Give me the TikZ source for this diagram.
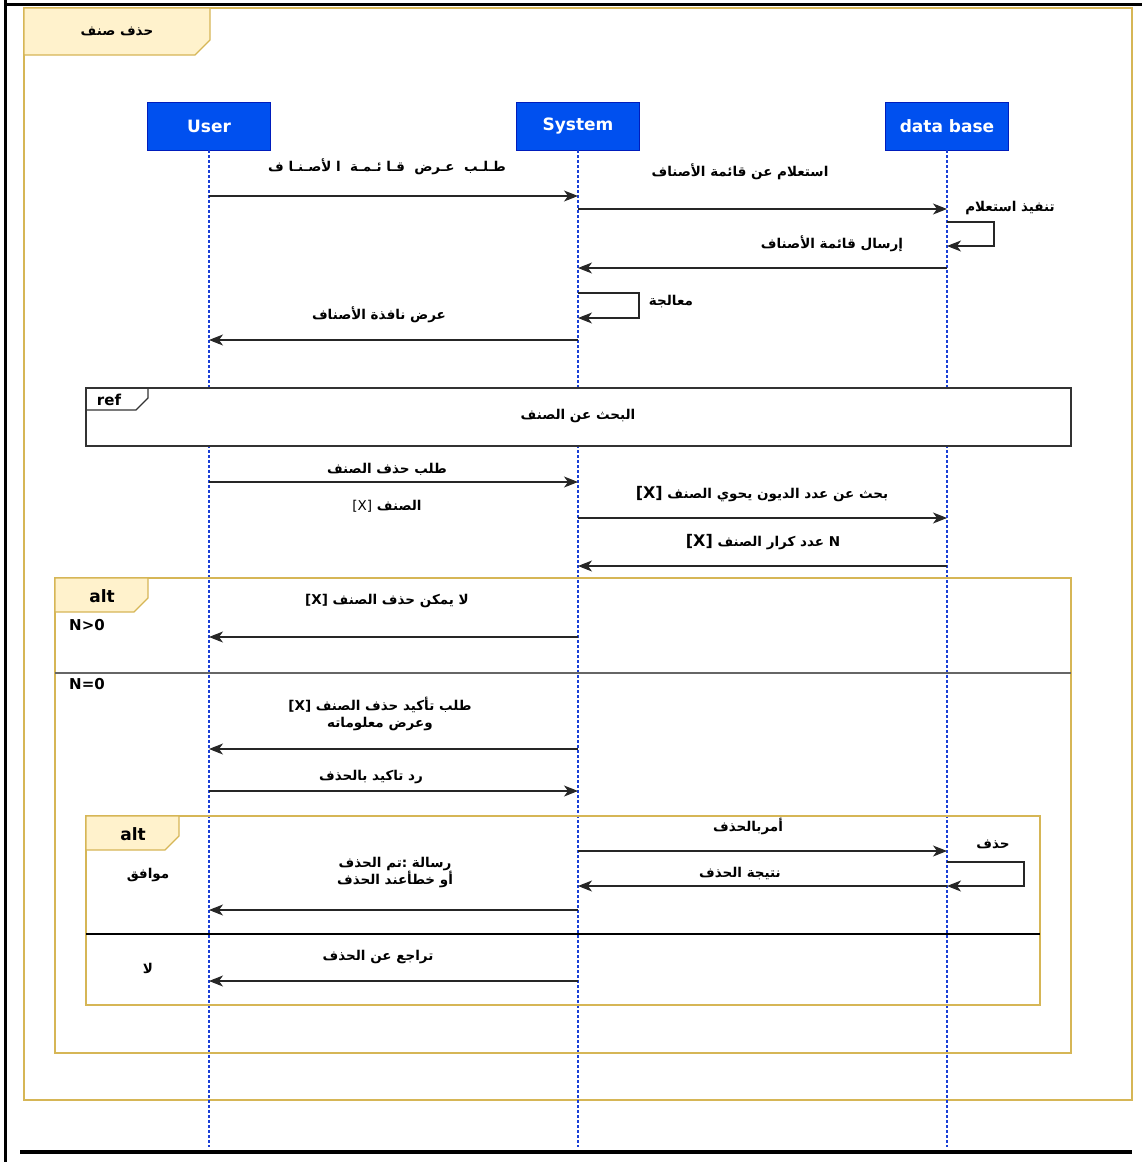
\documentclass[tikz,border=0pt]{standalone}
\usepackage{fontspec}
\setmainfont{DejaVu Sans}
\newfontfamily\arfont[Script=Arabic]{DejaVu Sans}
\TeXXeTstate=1
\usetikzlibrary{arrows.meta}
\definecolor{headblue}{HTML}{0050EF}
\definecolor{headedge}{HTML}{001DBC}
\definecolor{lifeblue}{HTML}{1A3FD6}
\definecolor{noteyellow}{HTML}{FFF2CC}
\definecolor{notegold}{HTML}{D6B656}
\newcommand\AR[1]{{\arfont\bfseries\beginR #1\endR}}
\newcommand\LT[1]{\beginL #1\endL{}}
\begin{document}
\begin{tikzpicture}[x=1pt,y=-1pt,
  head/.style={draw=headedge,fill=headblue,text=white,font=\bfseries\fontsize{17}{20}\selectfont,
    minimum width=123pt,minimum height=48pt,inner sep=0pt},
  life/.style={draw=lifeblue,line width=1.2pt,dash pattern=on 3pt off 2pt},
  msg/.style={draw=black!85,line width=1.1pt,-{Stealth[length=14pt,width=11pt,inset=4pt]}},
  lbl/.style={font=\fontsize{13.5}{17}\selectfont,inner sep=1pt,align=center},
  frame/.style={draw=notegold,line width=1.2pt},
  tag/.style={draw=notegold,fill=noteyellow,line width=1.2pt},
  tagtxt/.style={font=\bfseries\fontsize{17}{20}\selectfont,inner sep=0pt},
  guard/.style={font=\bfseries\fontsize{15}{18}\selectfont,inner sep=0pt}]
\useasboundingbox (0,0) rectangle (1142,1162);

% page border
\draw[line width=3pt] (5,0) -- (5,1162);
\draw[line width=3pt] (5,4) -- (1142,4);
\draw[line width=4pt] (20,1152) -- (1132,1152);

% outer interaction frame
\draw[frame] (24,8) rectangle (1132,1100);
\draw[tag] (24,8) -- (210,8) -- (210,40) -- (195,55) -- (24,55) -- cycle;
\node[lbl] (title) at (117,31) {\AR{حذف صنف}};

% participants
\node[head] (u) at (209,126) {User};
\node[head] (s) at (578,126) {System};
\node[head] (d) at (947,126) {data base};

% lifelines
\draw[life] (u.south) -- (u|-0,1147);
\draw[life] (s.south) -- (s|-0,1147);
\draw[life] (d.south) -- (d|-0,1147);

% listing of items
\draw[msg] (u|-0,196) -- (s|-0,196);
\node[lbl] (m1) at (387,167) {\AR{طـلـب\ \ عـرض\ \ قـا ئـمـة\ \ ا لأصـنـا ف}};
\draw[msg] (s|-0,209) -- (d|-0,209);
\node[lbl] (m2) at (740,172) {\AR{استعلام عن قائمة الأصناف}};
\draw[msg] (d|-0,222) -- (994,222) -- (994,246) -- (d|-0,246);
\node[lbl] (m3) at (1010,208) {\AR{تنفيذ استعلام}};
\draw[msg] (d|-0,268) -- (s|-0,268);
\node[lbl] (m4) at (832,244) {\AR{إرسال قائمة الأصناف}};
\draw[msg] (s|-0,293) -- (639,293) -- (639,318) -- (s|-0,318);
\node[lbl] (m5) at (671,302) {\AR{معالجة}};
\draw[msg] (s|-0,340) -- (u|-0,340);
\node[lbl] (m6) at (379,315) {\AR{عرض نافذة الأصناف}};

% reference fragment
\draw[draw=black!80,line width=1.1pt,fill=white] (86,388) rectangle (1071,446);
\draw[draw=black!80,line width=1.1pt] (86,410) -- (136,410) -- (148,398) -- (148,388);
\node[tagtxt,font=\bfseries\fontsize{15}{18}\selectfont] (reftag) at (109,400) {ref};
\node[lbl] (refname) at (578,416) {\AR{البحث عن الصنف}};

% deletion request
\draw[msg] (u|-0,482) -- (s|-0,482);
\node[lbl] (m7) at (387,469) {\AR{طلب حذف الصنف}};
\node[lbl] (m7b) at (387,506) {\AR{الصنف \LT{\mdseries[X]}}};
\draw[msg] (s|-0,518) -- (d|-0,518);
\node[lbl] (m8) at (762,494) {\AR{بحث عن عدد الديون يحوي الصنف \LT{\fontsize{16}{18}\selectfont[X]}}};
\draw[msg] (d|-0,566) -- (s|-0,566);
\node[lbl] (m9) at (763,542) {\AR{\LT{N} عدد كرار الصنف \LT{\fontsize{16}{18}\selectfont[X]}}};

% alternative on N
\draw[frame] (55,578) rectangle (1071,1053);
\draw[tag] (55,578) -- (148,578) -- (148,598) -- (134,612) -- (55,612) -- cycle;
\node[tagtxt] (alt1) at (102,596) {alt};
\node[guard] (g1) at (87,625) {N>0};
\draw[black!60,line width=1.1pt] (55,673) -- (1071,673);
\node[guard] (g2) at (87,684) {N=0};

\draw[msg] (s|-0,637) -- (u|-0,637);
\node[lbl] (m10) at (387,601) {\AR{لا يمكن حذف الصنف \LT{[X]}}};
\draw[msg] (s|-0,749) -- (u|-0,749);
\node[lbl] (m11) at (380,714) {\AR{طلب تأكيد حذف الصنف \LT{[X]}}\\\AR{وعرض معلوماته}};
\draw[msg] (u|-0,791) -- (s|-0,791);
\node[lbl] (m12) at (371,777) {\AR{رد تاكيد بالحذف}};

% alternative on confirmation
\draw[frame] (86,816) rectangle (1040,1005);
\draw[tag] (86,816) -- (179,816) -- (179,836) -- (165,850) -- (86,850) -- cycle;
\node[tagtxt] (alt2) at (133,834) {alt};
\node[lbl] (g3) at (148,875) {\AR{موافق}};
\draw[black,line width=1.1pt] (86,934) -- (1040,934);
\node[lbl] (g4) at (148,968) {\AR{لا}};

\draw[msg] (s|-0,851) -- (d|-0,851);
\node[lbl] (m13) at (748,826) {\AR{أمربالحذف}};
\draw[msg] (d|-0,862) -- (1024,862) -- (1024,886) -- (d|-0,886);
\node[lbl] (m14) at (993,844) {\AR{حذف}};
\draw[msg] (d|-0,886) -- (s|-0,886);
\node[lbl] (m15) at (740,874) {\AR{نتيجة الحذف}};
\draw[msg] (s|-0,910) -- (u|-0,910);
\node[lbl] (m16) at (395,873) {\AR{رسالة :تم الحذف}\\\AR{أو خطأعند الحذف}};
\draw[msg] (s|-0,981) -- (u|-0,981);
\node[lbl] (m17) at (378,957) {\AR{تراجع عن الحذف}};
\end{tikzpicture}
\end{document}
